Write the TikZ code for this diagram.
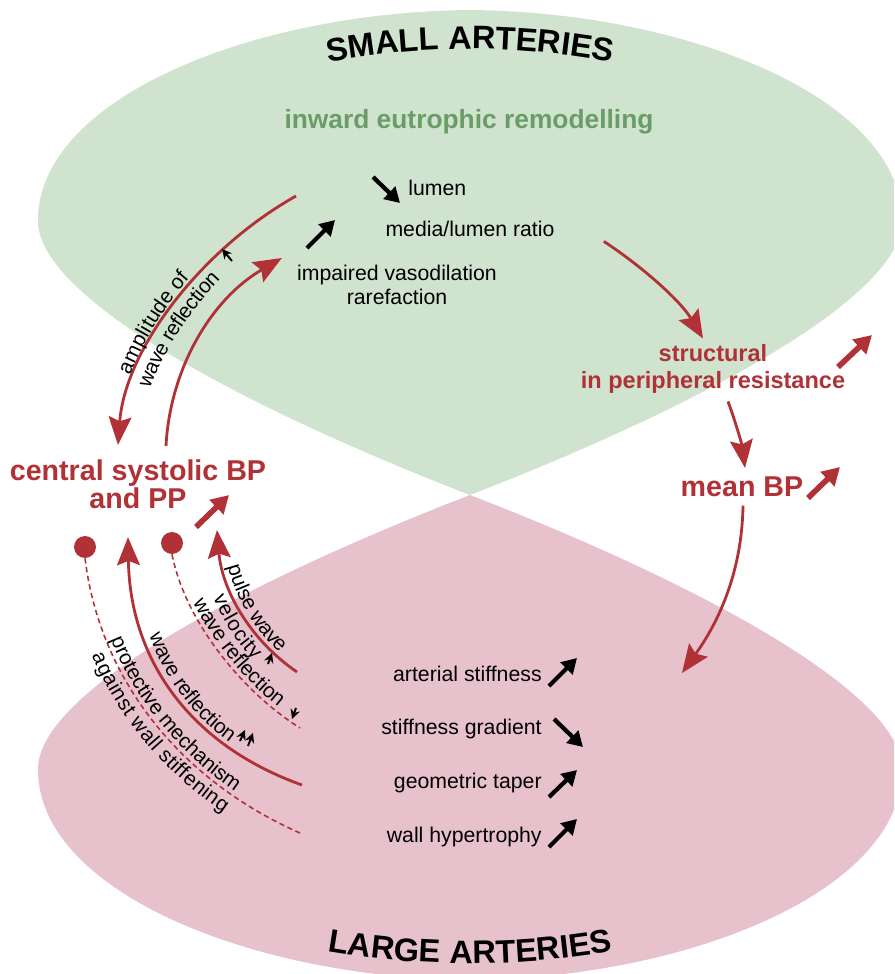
\documentclass[tikz,border=0pt]{standalone}
\usepackage{fontspec}
\setmainfont{Liberation Sans}
\usetikzlibrary{arrows.meta, decorations.text}
\definecolor{artred}{RGB}{176,50,54}
\definecolor{smallgreen}{RGB}{208,227,207}
\definecolor{largepink}{RGB}{231,194,204}
\definecolor{remgreen}{RGB}{106,156,104}
\tikzstyle{lbl} = [font=\fontsize{12.1}{14}\selectfont, inner sep=0pt]
\tikzstyle{keytext} = [font=\bfseries\fontsize{16.3}{14.5}\selectfont, text=artred, inner sep=0pt, align=center]
\tikzstyle{dotnode} = [circle, fill=artred, minimum size=12.5pt, inner sep=0pt]
\tikzstyle{redarrow} = [artred, line width=1.6pt, -{Stealth[length=16pt,width=13pt,inset=2.5pt]}]
\tikzstyle{dashline} = [artred, line width=0.9pt, dash pattern=on 3pt off 2pt]
\tikzstyle{blackup} = [line width=2.4pt, -{Triangle[length=8.5pt,width=9.5pt]}]
\tikzstyle{redup} = [artred, line width=3.2pt, -{Triangle[length=10pt,width=11pt]}]
\tikzstyle{tinyup} = [line width=1.1pt, -{Stealth[length=5.5pt,width=5.5pt]}]
\tikzset{curvetext/.style n args={3}{decorate, decoration={text along path, raise=#1, text align={left, left indent=#2}, text={|\fontsize{11.8}{14}\selectfont|#3}}}}

\begin{document}
\begin{tikzpicture}[x=0.02cm, y=-0.02cm]
  \useasboundingbox (0,0) rectangle (894,974);
  \begin{scope}
    \clip (0,0) rectangle (894,974);
    \fill [smallgreen] (470,495) .. controls (250,410) and (40,300) .. (38,222) .. controls (36,100) and (250,12) .. (470,10) .. controls (690,12) and (904,100) .. (902,222) .. controls (900,300) and (690,410) .. (470,495) -- cycle;
    \fill [largepink] (470,495) .. controls (250,580) and (40,690) .. (38,768) .. controls (36,890) and (250,978) .. (470,980) .. controls (690,978) and (904,890) .. (902,768) .. controls (900,690) and (690,580) .. (470,495) -- cycle;
  \end{scope}

  \path [decorate, decoration={text along path, text align=center, text={|\bfseries\fontsize{18.5}{20}\selectfont|SMALL ARTERIES}}] (320,64) .. controls (420,44) and (520,44) .. (620,64);
  \path [decorate, decoration={text along path, text align=center, text={|\bfseries\fontsize{18.5}{20}\selectfont|LARGE ARTERIES}}] (320,950) .. controls (420,968) and (520,968) .. (620,950);

  \node (remod) [font=\bfseries\fontsize{15}{18}\selectfont, text=remgreen, anchor=base, inner sep=0pt] at (469,128) {inward eutrophic remodelling};
  \node (lumen) [lbl, anchor=base west] at (408,195) {lumen};
  \node (media) [lbl, anchor=base] at (470,236) {media/lumen ratio};
  \node (impaired) [lbl, align=center] at (397,285) {impaired vasodilation\\rarefaction};
  \node (struct) [keytext, font=\bfseries\fontsize{13.4}{15}\selectfont] at (713,369) {structural\\in peripheral resistance};
  \node (mean) [keytext, anchor=base] at (742,496) {mean BP};
  \node (cbp) [keytext] at (138,484) {central systolic BP\\and PP};
  \node (stiff) [lbl, anchor=base east] at (542,681) {arterial stiffness};
  \node (grad) [lbl, anchor=base east] at (542,734) {stiffness gradient};
  \node (taper) [lbl, anchor=base east] at (542,788) {geometric taper};
  \node (hyper) [lbl, anchor=base east] at (542,842) {wall hypertrophy};
  \node (dot1) [dotnode] at (85,547) {};
  \node (dot2) [dotnode] at (172,543) {};

  \coordinate (ampfrom) at (296,196);
  \coordinate (pwvfrom) at (297,672);
  \coordinate (pwvto) at (217,530);
  \coordinate (wrfrom) at (302,785);
  \coordinate (wr1end) at (300,728);
  \coordinate (protend) at (300,833);
  \coordinate (meanto) at (682,673);

  \draw [redarrow] (ampfrom) .. controls (200,250) and (125,350) .. ([shift={(-20,-14)}]cbp.north);
  \draw [redarrow] ([shift={(28,-13)}]cbp.north) .. controls (170,370) and (210,300) .. ([shift={(-15,-27)}]impaired.west);
  \draw [redarrow] ([shift={(49,13)}]media.east) .. controls (640,265) and (680,300) .. ([shift={(-10,-6)}]struct.north);
  \draw [redarrow] ([shift={(15,8)}]struct.south) .. controls (735,420) and (742,445) .. ([shift={(3,-8)}]mean.north);
  \draw [redarrow] ([shift={(1,9)}]mean.south) .. controls (742,570) and (720,620) .. (meanto);
  \draw [redarrow] (pwvfrom) .. controls (250,640) and (222,590) .. (pwvto);
  \draw [redarrow] (wrfrom) .. controls (190,745) and (130,660) .. ([shift={(-10,28)}]cbp.south);
  \draw [dashline] (dot2.south) .. controls (185,620) and (240,690) .. (wr1end);
  \draw [dashline] (dot1.south) .. controls (100,680) and (180,780) .. (protend);

  \path [curvetext={2.5pt}{40pt}{amplitude of}] ([shift={(-20,-14)}]cbp.north) .. controls (125,350) and (200,250) .. (ampfrom);
  \path [curvetext={-11pt}{37pt}{wave reflection}] ([shift={(-20,-14)}]cbp.north) .. controls (125,350) and (200,250) .. (ampfrom);
  \path [curvetext={2.5pt}{22pt}{pulse wave}] (pwvto) .. controls (222,590) and (250,640) .. (pwvfrom);
  \path [curvetext={-11pt}{35pt}{velocity}] (pwvto) .. controls (222,590) and (250,640) .. (pwvfrom);
  \path [curvetext={2.5pt}{30pt}{wave reflection}] (dot2.south) .. controls (185,620) and (240,690) .. (wr1end);
  \path [curvetext={2.5pt}{58pt}{wave reflection}] ([shift={(-10,28)}]cbp.south) .. controls (130,660) and (190,745) .. (wrfrom);
  \path [curvetext={2.5pt}{49pt}{protective mechanism}] (dot1.south) .. controls (100,680) and (180,780) .. (protend);
  \path [curvetext={-11pt}{53pt}{against wall stiffening}] (dot1.south) .. controls (100,680) and (180,780) .. (protend);

  \draw [blackup] ([shift={(-35,-18)}]lumen.base west) -- ++(27,26);
  \draw [blackup] ([shift={(-163,12)}]media.base) -- ++(28,-28);
  \draw [blackup] ([shift={(7,5)}]stiff.base east) -- ++(28,-28);
  \draw [blackup] ([shift={(12,-15)}]grad.base east) -- ++(29,28);
  \draw [blackup] ([shift={(7,9)}]taper.base east) -- ++(28,-27);
  \draw [blackup] ([shift={(7,5)}]hyper.base east) -- ++(28,-28);
  \draw [redup] ([shift={(58,43)}]cbp.center) -- ++(33,-32);
  \draw [redup] ([shift={(125,-2)}]struct.center) -- ++(34,-32);
  \draw [redup] ([shift={(66,2)}]mean.base) -- ++(32,-31);

  \draw [tinyup] (232,261) -- (222,249);
  \draw [tinyup] (268,664) -- (272,653);
  \draw [tinyup] (296,708) -- (292,719);
  \draw [tinyup] (240,741) -- (245,730);
  \draw [tinyup] (248,746) -- (253,733);
\end{tikzpicture}
\end{document}
